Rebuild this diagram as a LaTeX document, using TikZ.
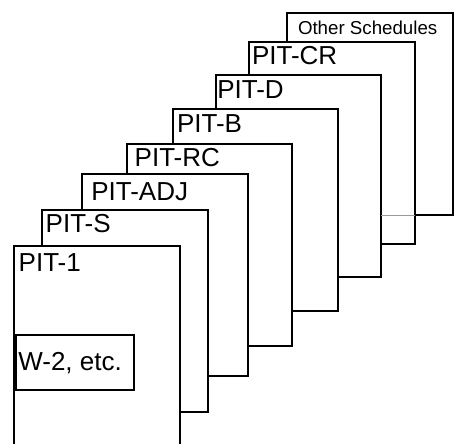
\documentclass[tikz,border=0pt]{standalone}
\usepackage{fontspec}
\setmainfont{Liberation Sans}
\begin{document}
\begin{tikzpicture}[x=1pt,y=-1pt,
  page/.style={draw=black, fill=white, line width=2pt, rectangle, inner sep=0pt, outer sep=0pt,
    minimum width=165.7pt, minimum height=201.8pt, anchor=north west},
  lbl/.style={anchor=base west, inner sep=0pt, outer sep=0pt, font=\fontsize{26}{30}\selectfont},
  smalllbl/.style={anchor=base west, inner sep=0pt, outer sep=0pt, font=\fontsize{18.7}{22}\selectfont},
  wbox/.style={draw=black, fill=white, line width=2pt, rectangle, inner sep=0pt, outer sep=0pt,
    minimum width=118.5pt, minimum height=55pt, anchor=north west},
  ghost/.style={draw=black!40, line width=0.6pt}]
\useasboundingbox (0,0) rectangle (469,444);
\clip (0,0) rectangle (469,444);
% back to front
\node[page] (os) at (287.3,13.3) {};
\node[smalllbl] (tos) at (298,35) {Other Schedules};
\node[page] (cr) at (249,41.7) {};
\node[lbl] (tcr) at (252,65) {PIT-CR};
\node[page] (d) at (215.7,74.7) {};
\draw[ghost] (d.east |- os.south) -- (cr.east |- os.south);
\node[lbl] (td) at (217.3,98.3) {PIT-D};
\node[page] (b) at (172.7,108.7) {};
\node[lbl] (tb) at (177,132.7) {PIT-B};
\node[page] (rc) at (126.7,144) {};
\node[lbl] (trc) at (134.7,166.7) {PIT-RC};
\node[page] (adj) at (82.3,174.3) {};
\node[lbl] (tadj) at (91.3,200) {PIT-ADJ};
\node[page] (s) at (42.3,210) {};
\node[lbl] (ts) at (45.7,232.3) {PIT-S};
\node[page] (p1) at (14,245.7) {};
\node[lbl] (tp1) at (18.7,271.7) {PIT-1};
\node[wbox] (w2) at (15.5,335) {};
\node[lbl] (tw2) at (18.3,370) {W-2, etc.};
\end{tikzpicture}
\end{document}
